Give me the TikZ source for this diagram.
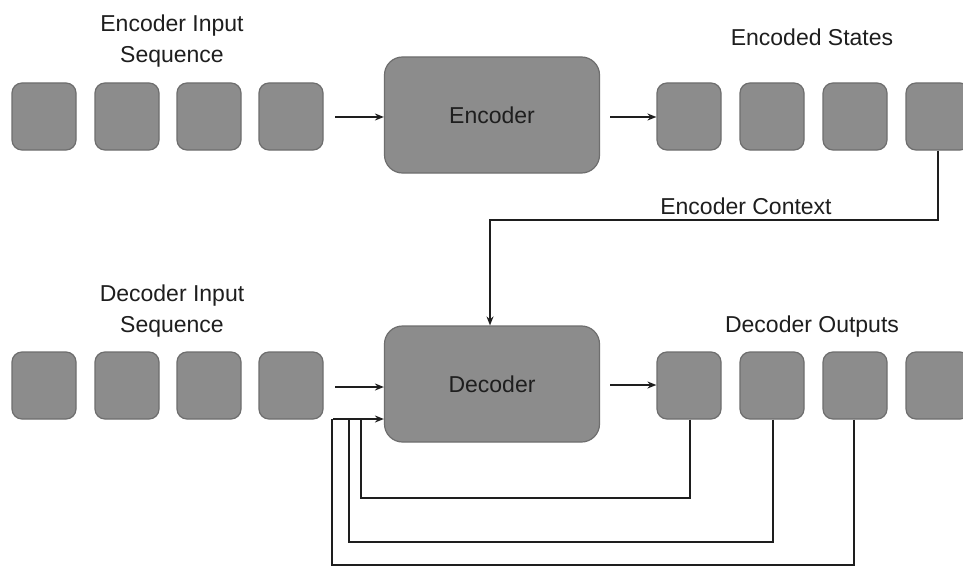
\documentclass[tikz,border=0pt]{standalone}
\usepackage{fontspec}
\setmainfont{Liberation Sans}
\usetikzlibrary{arrows.meta}
\definecolor{boxfill}{HTML}{8C8C8C}
\definecolor{boxline}{HTML}{6E6E6E}
\definecolor{ink}{HTML}{1E1E1E}
\begin{document}
\begin{tikzpicture}[x=1pt,y=-1pt,
  cell/.style={draw=boxline,line width=1.2pt,fill=boxfill,rounded corners=10pt,minimum width=64pt,minimum height=67pt,inner sep=0pt},
  block/.style={draw=boxline,line width=1.2pt,fill=boxfill,rounded corners=18pt,minimum width=215pt,minimum height=116pt,inner sep=0pt,font=\fontsize{23}{28}\selectfont,text=ink},
  lbl/.style={font=\fontsize{23}{31}\selectfont,text=ink,align=center,inner sep=0pt},
  conn/.style={draw=ink,line width=1.4pt},
  arr/.style={conn,-{Stealth[length=9pt,width=7pt]}}]
\useasboundingbox (0,0) rectangle (963,567);
\fill[white] (0,0) rectangle (963,567);
% top row
\foreach \i/\x in {1/44,2/127,3/209,4/291}{\node[cell] (ei\i) at (\x,116.5) {};}
\foreach \i/\x in {1/689,2/772,3/855,4/938}{\node[cell] (es\i) at (\x,116.5) {};}
\node[block] (enc) at (492,115) {Encoder};
% bottom row
\foreach \i/\x in {1/44,2/127,3/209,4/291}{\node[cell] (di\i) at (\x,385.5) {};}
\foreach \i/\x in {1/689,2/772,3/855,4/938}{\node[cell] (do\i) at (\x,385.5) {};}
\node[block] (dec) at (492,384) {Decoder};
% labels
\node[lbl] (l1) at (172,41) {Encoder Input\\Sequence};
\node[lbl] (l2) at (812,37) {Encoded States};
\node[lbl] (l3) at (746,206) {Encoder Context};
\node[lbl] (l4) at (172,311) {Decoder Input\\Sequence};
\node[lbl] (l5) at (812,327) {Decoder Outputs};
% arrows top
\coordinate (a1) at (335,117);
\coordinate (a2) at (610,117);
\draw[arr] (a1) -- (enc.west |- a1);
\draw[arr] (a2) -- (es1.west |- a2);
% encoder context
\coordinate (c1) at (938,220);
\coordinate (c2) at (490,220);
\draw[arr] (es4.south) -- (c1) -- (c2) -- (dec.north -| c2);
% decoder arrows
\coordinate (b1) at (335,387);
\coordinate (b2) at (333,419);
\coordinate (b3) at (610,385);
\draw[arr] (b1) -- (dec.west |- b1);
\draw[arr] (b2) -- (dec.west |- b2);
\draw[arr] (b3) -- (do1.west |- b3);
% feedback
\coordinate (f1) at (690,498);
\coordinate (g1) at (361,498);
\coordinate (f2) at (773,542);
\coordinate (g2) at (349,542);
\coordinate (f3) at (854,565);
\coordinate (g3) at (332,565);
\draw[conn] (do1.south -| f1) -- (f1) -- (g1) -- (g1 |- b2);
\draw[conn] (do2.south -| f2) -- (f2) -- (g2) -- (g2 |- b2);
\draw[conn] (do3.south -| f3) -- (f3) -- (g3) -- (g3 |- b2);
\end{tikzpicture}
\end{document}
